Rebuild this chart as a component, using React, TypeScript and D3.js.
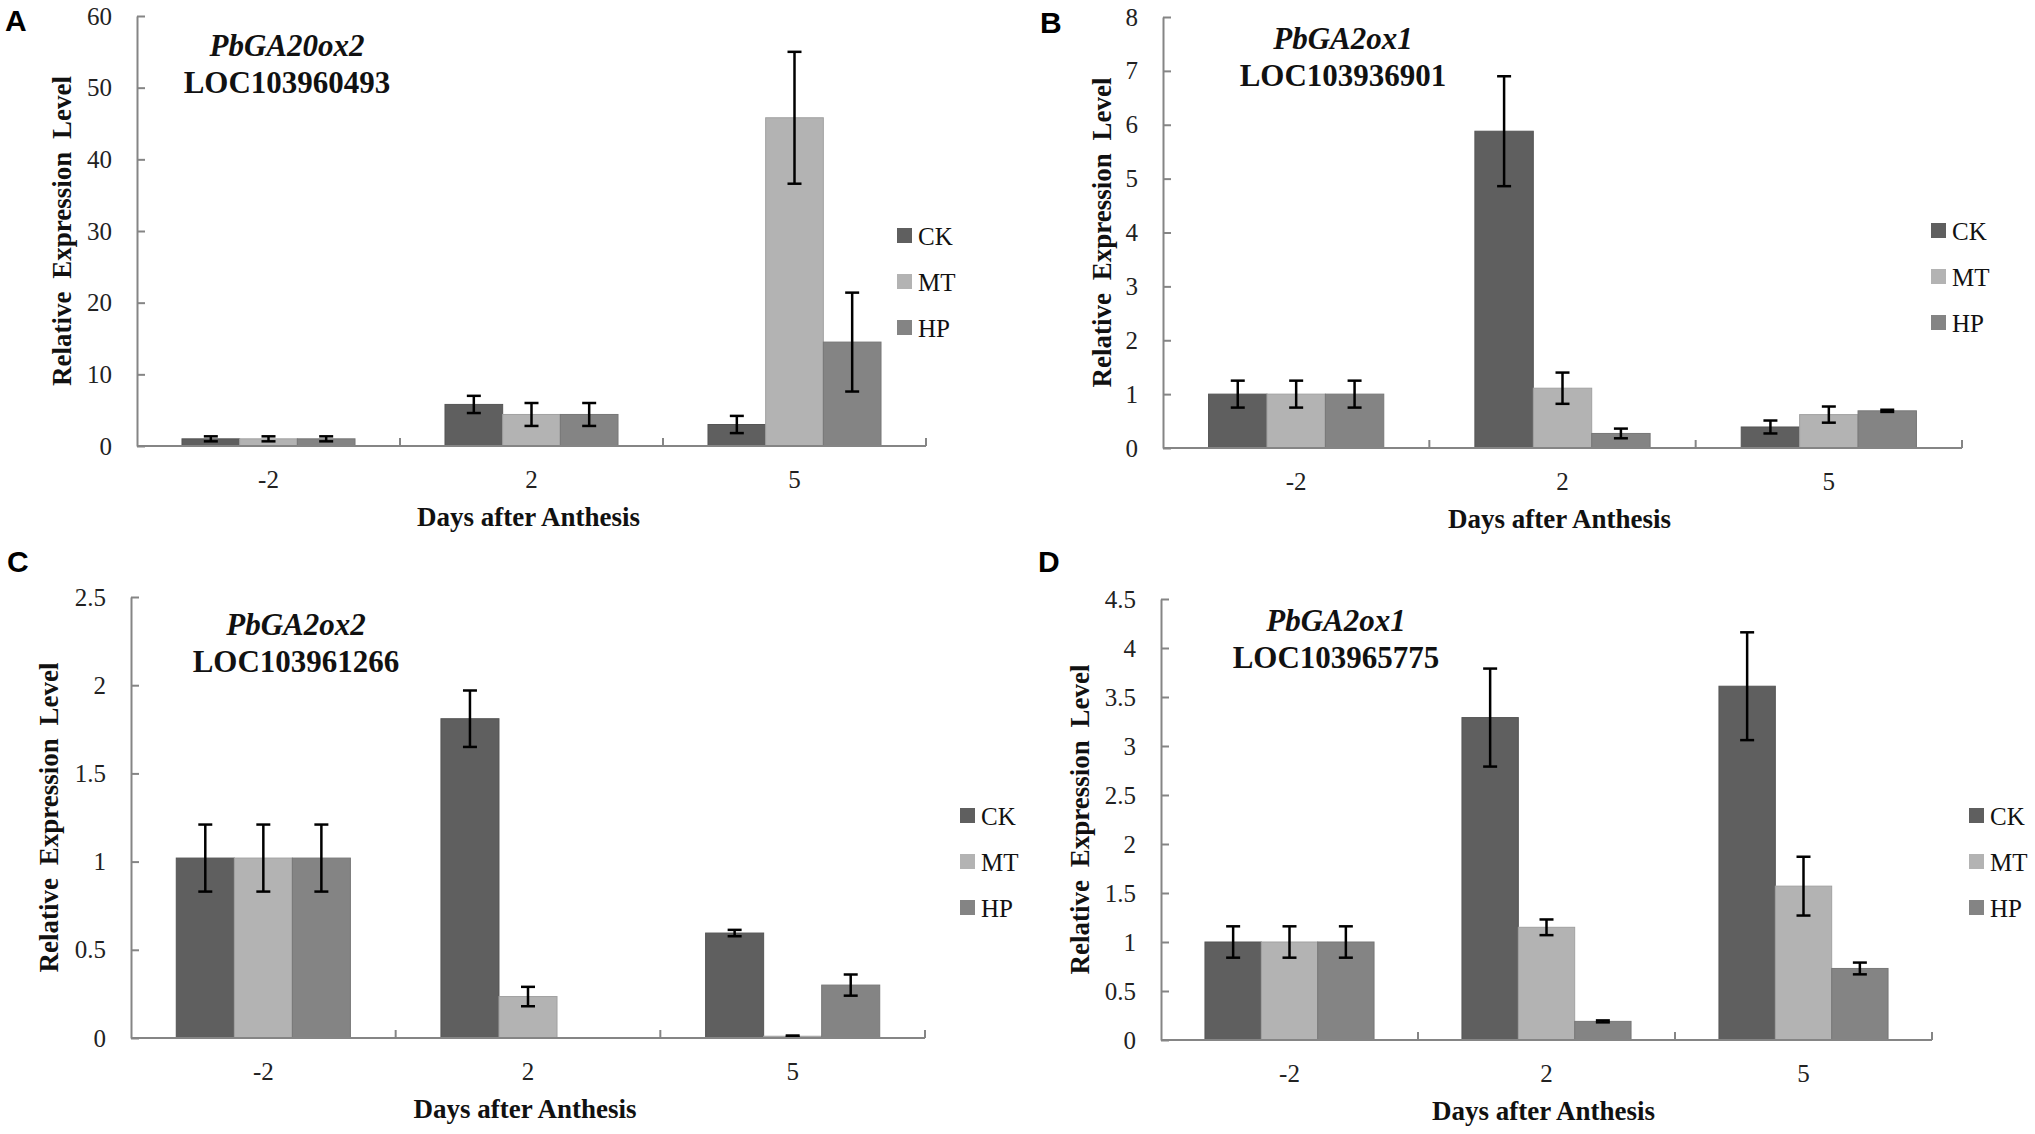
import { useRef, useEffect } from "react";
import * as d3 from "d3";

// shared categories
const days = ["-2", "2", "5"];
const treatments = ["CK", "MT", "HP"];
const treatmentColors = ["#5f5f5f", "#b3b3b3", "#848484"];

const panelLetters = ["A", "B", "C", "D"];
const geneNames = ["PbGA20ox2", "PbGA2ox1", "PbGA2ox2", "PbGA2ox1"];
const locusIds = ["LOC103960493", "LOC103936901", "LOC103961266", "LOC103965775"];

// values per day: [CK, MT, HP]
const ga20ox2Means = [[1, 1, 1], [5.8, 4.4, 4.4], [3.0, 45.8, 14.5]];
const ga20ox2Errors = [[0.35, 0.35, 0.35], [1.2, 1.6, 1.6], [1.2, 9.2, 6.9]];
const ga20ox2Ticks = [0, 10, 20, 30, 40, 50, 60];

const ga2ox1aMeans = [[1, 1, 1], [5.88, 1.11, 0.27], [0.39, 0.62, 0.69]];
const ga2ox1aErrors = [[0.25, 0.25, 0.25], [1.02, 0.29, 0.09], [0.12, 0.15, 0.02]];
const ga2ox1aTicks = [0, 1, 2, 3, 4, 5, 6, 7, 8];

const ga2ox2Means = [[1.02, 1.02, 1.02], [1.81, 0.235, 0], [0.595, 0.01, 0.3]];
const ga2ox2Errors = [[0.19, 0.19, 0.19], [0.16, 0.055, 0], [0.018, 0.004, 0.06]];
const ga2ox2Ticks = [0, 0.5, 1, 1.5, 2, 2.5];

const ga2ox1bMeans = [[1, 1, 1], [3.29, 1.15, 0.19], [3.61, 1.57, 0.73]];
const ga2ox1bErrors = [[0.16, 0.16, 0.16], [0.5, 0.08, 0.01], [0.55, 0.3, 0.06]];
const ga2ox1bTicks = [0, 0.5, 1, 1.5, 2, 2.5, 3, 3.5, 4, 4.5];

const allMeans = [ga20ox2Means, ga2ox1aMeans, ga2ox2Means, ga2ox1bMeans];
const allErrors = [ga20ox2Errors, ga2ox1aErrors, ga2ox2Errors, ga2ox1bErrors];
const allTicks = [ga20ox2Ticks, ga2ox1aTicks, ga2ox2Ticks, ga2ox1bTicks];

// where each panel sits on the page
const frames = [
  { left: 137, right: 926, top: 16, bottom: 446, letterX: 5, letterY: 31, yTitleX: 62, legendX: 897, legendY: 236, noteX: 287, noteY: 56 },
  { left: 1163, right: 1962, top: 17, bottom: 448, letterX: 1040, letterY: 33, yTitleX: 1102, legendX: 1931, legendY: 231, noteX: 1343, noteY: 49 },
  { left: 131, right: 925, top: 597, bottom: 1038, letterX: 7, letterY: 572, yTitleX: 49, legendX: 960, legendY: 816, noteX: 296, noteY: 635 },
  { left: 1161, right: 1932, top: 599, bottom: 1040, letterX: 1038, letterY: 572, yTitleX: 1080, legendX: 1969, legendY: 816, noteX: 1336, noteY: 631 },
];

const serif = "'Liberation Serif', 'Times New Roman', serif";
const axisColor = "#858585";

export default function App() {
  const svgRef = useRef(null);

  useEffect(() => {
    const svg = d3.select(svgRef.current);
    svg.selectAll("*").remove();

    frames.forEach((f, p) => {
      const means = allMeans[p];
      const errors = allErrors[p];
      const ticks = allTicks[p];
      const g = svg.append("g");

      const x0 = d3.scaleBand().domain(days).range([f.left, f.right]).padding(0);
      const x1 = d3.scaleBand().domain(treatments).range([0, x0.bandwidth()])
        .paddingInner(0).paddingOuter(0.78);
      const y = d3.scaleLinear().domain([0, ticks[ticks.length - 1]]).range([f.bottom, f.top]);
      const color = d3.scaleOrdinal<string, string>().domain(treatments).range(treatmentColors);

      // bars
      const groups = g.selectAll("g.day")
        .data(days)
        .join("g")
        .attr("class", "day")
        .attr("transform", (d) => `translate(${x0(d)},0)`);

      groups.selectAll("rect")
        .data((d, i) => treatments.map((t, j) => ({ t, v: means[i][j], e: errors[i][j] })))
        .join("rect")
        .attr("x", (d) => x1(d.t)!)
        .attr("width", x1.bandwidth())
        .attr("y", (d) => y(d.v))
        .attr("height", (d) => y(0) - y(d.v))
        .attr("fill", (d) => color(d.t))
        .attr("stroke", (d) => d3.color(color(d.t))!.darker(0.3).toString())
        .attr("stroke-width", 1);

      // error bars
      const errs = groups.selectAll("g.err")
        .data((d, i) => treatments.map((t, j) => ({ t, v: means[i][j], e: errors[i][j] })).filter((d) => d.v > 0))
        .join("g")
        .attr("class", "err")
        .attr("transform", (d) => `translate(${x1(d.t)! + x1.bandwidth() / 2},0)`);
      errs.append("line")
        .attr("y1", (d) => y(d.v + d.e)).attr("y2", (d) => y(Math.max(0, d.v - d.e)))
        .attr("stroke", "#000").attr("stroke-width", 2.5);
      errs.selectAll("line.cap")
        .data((d) => [d.v + d.e, Math.max(0, d.v - d.e)])
        .join("line")
        .attr("class", "cap")
        .attr("x1", -7).attr("x2", 7)
        .attr("y1", (d) => y(d)).attr("y2", (d) => y(d))
        .attr("stroke", "#000").attr("stroke-width", 2.5);

      // y axis, ticks pointing inward
      const yAxis = g.append("g")
        .attr("transform", `translate(${f.left},0)`)
        .call(d3.axisLeft(y).tickValues(ticks).tickSizeInner(-8).tickSizeOuter(0).tickPadding(25)
          .tickFormat(d3.format("~g")));
      yAxis.select(".domain").attr("stroke", axisColor).attr("stroke-width", 2);
      yAxis.selectAll(".tick line").attr("stroke", axisColor).attr("stroke-width", 2);
      yAxis.selectAll("text").attr("font-family", serif).attr("font-size", 25).attr("fill", "#222");

      // x axis: line with boundary ticks
      g.append("line")
        .attr("x1", f.left).attr("x2", f.right)
        .attr("y1", f.bottom).attr("y2", f.bottom)
        .attr("stroke", axisColor).attr("stroke-width", 2);
      g.selectAll("line.xtick")
        .data([...days.slice(1).map((d) => x0(d)!), f.right])
        .join("line")
        .attr("class", "xtick")
        .attr("x1", (d) => d).attr("x2", (d) => d)
        .attr("y1", f.bottom).attr("y2", f.bottom - 8)
        .attr("stroke", axisColor).attr("stroke-width", 2);
      g.selectAll("text.xlab")
        .data(days)
        .join("text")
        .attr("class", "xlab")
        .attr("x", (d) => x0(d)! + x0.bandwidth() / 2)
        .attr("y", f.bottom + 42)
        .attr("text-anchor", "middle")
        .attr("font-family", serif).attr("font-size", 25).attr("fill", "#222")
        .text((d) => d);

      g.append("text")
        .attr("x", (f.left + f.right) / 2 - 3)
        .attr("y", f.bottom + 80)
        .attr("text-anchor", "middle")
        .attr("font-family", serif).attr("font-size", 27).attr("font-weight", "bold")
        .attr("fill", "#111")
        .text("Days after Anthesis");

      g.append("text")
        .attr("transform", `translate(${f.yTitleX},${(f.top + f.bottom) / 2}) rotate(-90)`)
        .attr("text-anchor", "middle")
        .attr("dy", "0.35em")
        .attr("font-family", serif).attr("font-size", 27).attr("font-weight", "bold")
        .attr("word-spacing", 6)
        .attr("fill", "#111")
        .text("Relative Expression Level");

      // gene annotation
      g.append("text")
        .attr("x", f.noteX).attr("y", f.noteY)
        .attr("text-anchor", "middle")
        .attr("font-family", serif).attr("font-size", 31)
        .attr("font-weight", "bold").attr("font-style", "italic")
        .attr("fill", "#111")
        .text(geneNames[p]);
      g.append("text")
        .attr("x", f.noteX).attr("y", f.noteY + 37)
        .attr("text-anchor", "middle")
        .attr("font-family", serif).attr("font-size", 31).attr("font-weight", "bold")
        .attr("fill", "#111")
        .text(locusIds[p]);

      // legend
      const legend = g.selectAll("g.legend")
        .data(treatments)
        .join("g")
        .attr("class", "legend")
        .attr("transform", (d, i) => `translate(${f.legendX},${f.legendY + i * 46})`);
      legend.append("rect")
        .attr("x", 0).attr("y", -8).attr("width", 15).attr("height", 15)
        .attr("fill", (d) => color(d));
      legend.append("text")
        .attr("x", 21).attr("dy", "0.35em")
        .attr("font-family", serif).attr("font-size", 25).attr("fill", "#111")
        .text((d) => d);

      // panel letter
      g.append("text")
        .attr("x", f.letterX).attr("y", f.letterY)
        .attr("font-family", "'Liberation Sans', Arial, sans-serif")
        .attr("font-size", 30).attr("font-weight", "bold")
        .text(panelLetters[p]);
    });
  }, []);

  return (
    <svg
      ref={svgRef}
      width={2035}
      height={1134}
      style={{ position: "absolute", left: 0, top: 0, background: "#fff" }}
    />
  );
}
